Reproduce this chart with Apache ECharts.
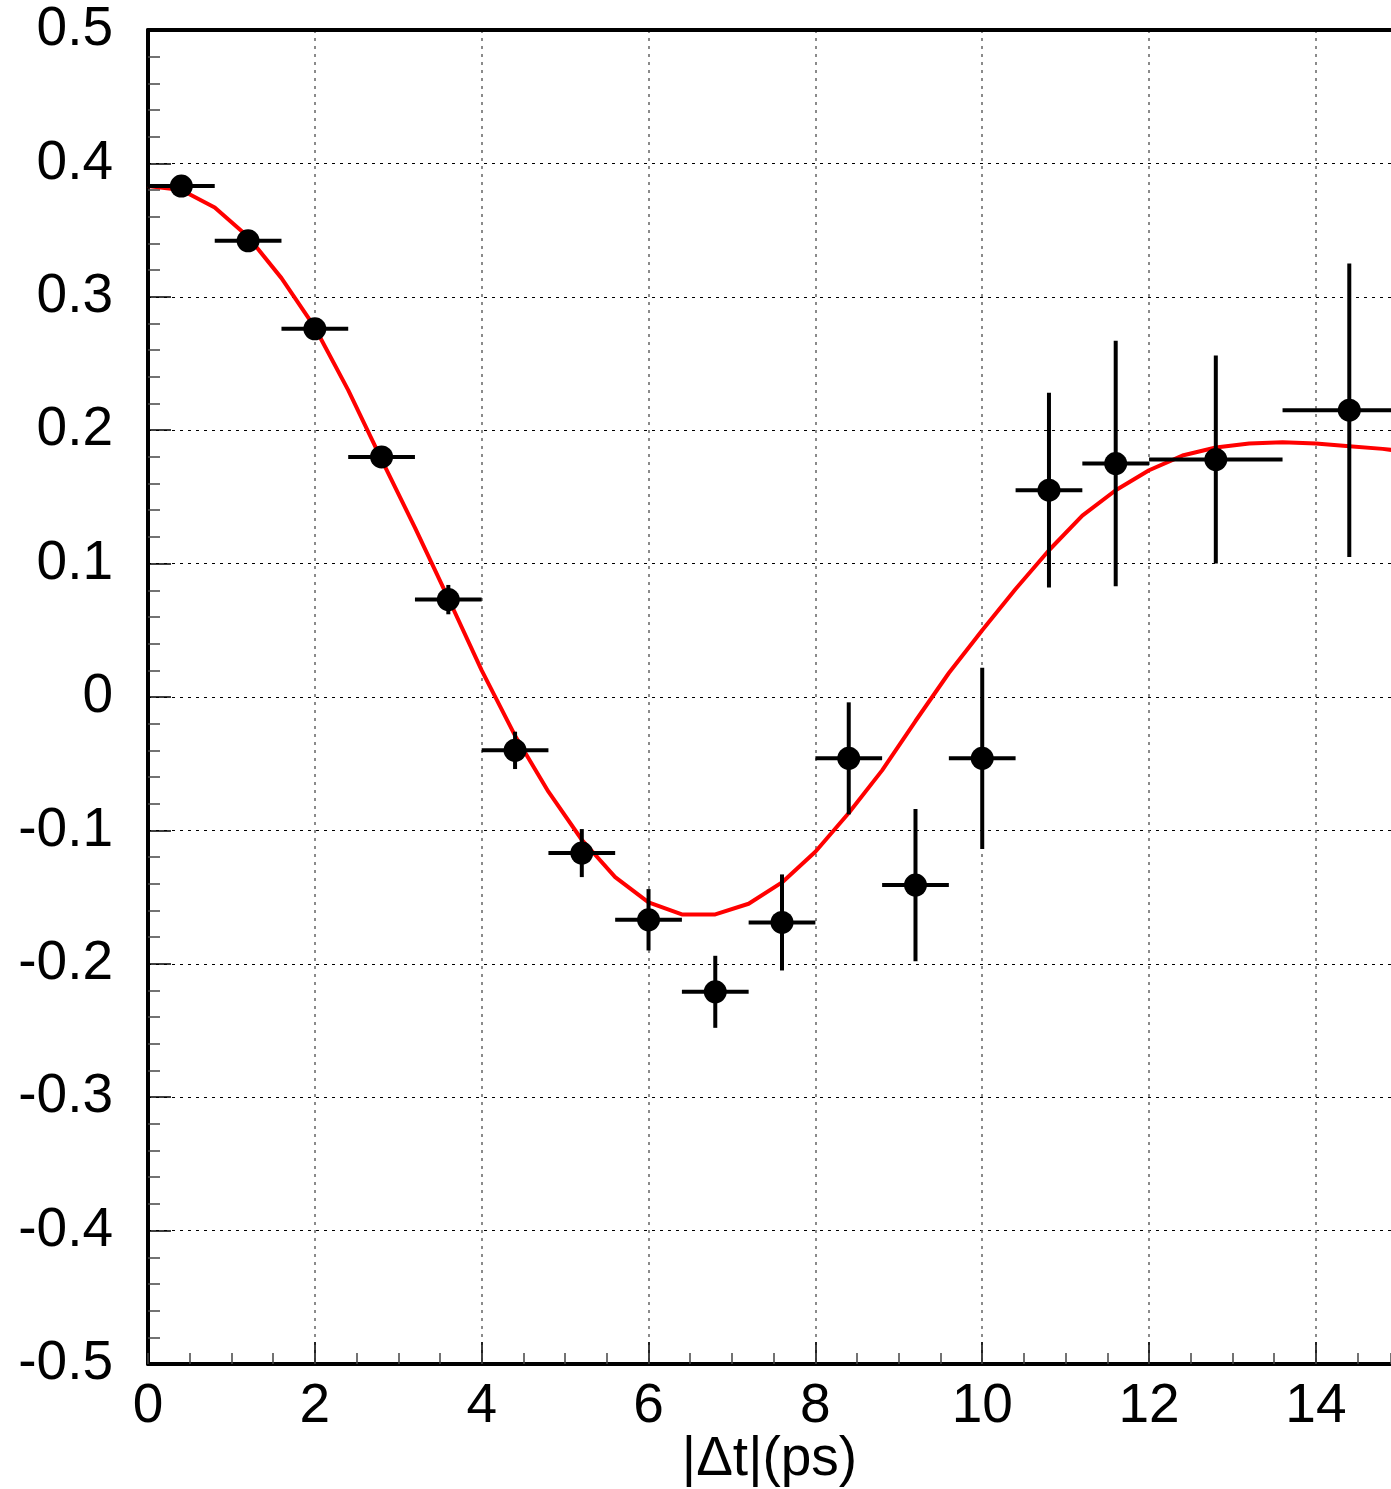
<!DOCTYPE html>
<html>
<head>
<meta charset="utf-8">
<title>|Δt| asymmetry</title>
<script src="https://cdn.jsdelivr.net/npm/echarts@6/dist/echarts.min.js"></script>
<style>
  html, body { margin: 0; padding: 0; background: #ffffff; overflow: hidden; }
  #chart { width: 1391px; height: 1489px; }
</style>
</head>
<body>
<div id="chart"></div>
<script>
// Measured asymmetry per |Δt| bin
const binCenters = [0.4, 1.2, 2.0, 2.8, 3.6, 4.4, 5.2, 6.0, 6.8, 7.6, 8.4, 9.2, 10.0, 10.8, 11.6, 12.8, 14.4];
const binHalfWidths = [0.4, 0.4, 0.4, 0.4, 0.4, 0.4, 0.4, 0.4, 0.4, 0.4, 0.4, 0.4, 0.4, 0.4, 0.4, 0.8, 0.8];
const asymmetry = [0.383, 0.342, 0.276, 0.180, 0.073, -0.040, -0.117, -0.167, -0.221, -0.169, -0.046, -0.141, -0.046, 0.155, 0.175, 0.178, 0.215];
const asymErrors = [0.005, 0.006, 0.007, 0.008, 0.011, 0.014, 0.018, 0.023, 0.027, 0.036, 0.042, 0.057, 0.068, 0.073, 0.092, 0.078, 0.110];

// Fit curve sampled every 0.4 ps
const fitT = [0, 0.4, 0.8, 1.2, 1.6, 2.0, 2.4, 2.8, 3.2, 3.6, 4.0, 4.4, 4.8, 5.2, 5.6, 6.0, 6.4, 6.8, 7.2, 7.6,
              8.0, 8.4, 8.8, 9.2, 9.6, 10.0, 10.4, 10.8, 11.2, 11.6, 12.0, 12.4, 12.8, 13.2, 13.6, 14.0, 14.4, 14.8, 15.2];
const fitA = [0.383, 0.380, 0.367, 0.345, 0.314, 0.277, 0.230, 0.178, 0.127, 0.074, 0.020, -0.029, -0.071, -0.107,
              -0.135, -0.154, -0.163, -0.163, -0.155, -0.139, -0.116, -0.087, -0.055, -0.018, 0.018, 0.050, 0.081,
              0.110, 0.136, 0.155, 0.170, 0.181, 0.187, 0.190, 0.191, 0.190, 0.188, 0.186, 0.183];

// Visible |Δt| window (the frame runs on past the right edge of the page)
const T_MIN = 0;
const T_MAX = 14.9;

const FONT = '"Liberation Sans", Arial, Helvetica, sans-serif';

const errorData = binCenters.map((t, i) => [
  t, asymmetry[i],
  t - binHalfWidths[i], t + binHalfWidths[i],
  asymmetry[i] - asymErrors[i], asymmetry[i] + asymErrors[i]
]);
const pointData = binCenters.map((t, i) => [t, asymmetry[i]]);
const fitData = fitT.map((t, i) => [t, fitA[i]]);

const chart = echarts.init(document.getElementById('chart'), null, { renderer: 'canvas' });

function renderErrorBars(params, api) {
  const x = api.value(0), y = api.value(1);
  const left = api.coord([api.value(2), y]);
  const right = api.coord([api.value(3), y]);
  const low = api.coord([x, api.value(4)]);
  const high = api.coord([x, api.value(5)]);
  const style = { stroke: '#000000', lineWidth: 4 };
  return {
    type: 'group',
    children: [
      { type: 'line', shape: { x1: left[0], y1: left[1], x2: right[0], y2: right[1] }, style },
      { type: 'line', shape: { x1: low[0], y1: low[1], x2: high[0], y2: high[1] }, style }
    ]
  };
}

const hidden = { show: false };

chart.setOption({
  animation: false,
  backgroundColor: '#ffffff',
  grid: { left: 148, top: 30, bottom: 125, right: 0, containLabel: false, outerBoundsMode: 'none' },
  xAxis: [
    {
      // main axis: labels, major ticks, grid lines
      type: 'value', position: 'bottom', min: T_MIN, max: T_MAX, interval: 2,
      name: '|Δt|(ps)', nameLocation: 'middle', nameGap: 68, nameMoveOverlap: false,
      nameTextStyle: { fontFamily: FONT, fontSize: 55, color: '#000000' },
      axisLine: { show: true, onZero: false, lineStyle: { color: '#000000', width: 4 } },
      axisTick: { show: true, inside: true, length: 22, lineStyle: { color: '#000000', width: 1.5 } },
      axisLabel: {
        fontFamily: FONT, fontSize: 55, color: '#000000', margin: 15, showMaxLabel: false,
        formatter: v => String(v)
      },
      splitLine: { show: true, showMaxLine: false, lineStyle: { color: '#666666', width: 1.5, type: [3, 5] } }
    },
    {
      // minor ticks every 0.5 ps
      type: 'value', position: 'bottom', min: T_MIN, max: T_MAX, interval: 0.5,
      axisLine: { show: false, onZero: false },
      axisTick: { show: true, inside: true, length: 11, lineStyle: { color: '#444444', width: 1.5 } },
      axisLabel: hidden, splitLine: hidden
    },
    {
      // upper frame edge
      type: 'value', position: 'top', min: T_MIN, max: T_MAX,
      axisLine: { show: true, onZero: false, lineStyle: { color: '#000000', width: 4 } },
      axisTick: hidden, axisLabel: hidden, splitLine: hidden
    }
  ],
  yAxis: {
    type: 'value', min: -0.5, max: 0.5, interval: 0.1,
    axisLine: { show: true, onZero: false, lineStyle: { color: '#000000', width: 4 } },
    axisTick: { show: true, inside: true, length: 23, lineStyle: { color: '#000000', width: 1.5 } },
    minorTick: { show: true, splitNumber: 5, length: 12, lineStyle: { color: '#444444', width: 1.5 } },
    axisLabel: {
      fontFamily: FONT, fontSize: 55, color: '#000000', margin: 35,
      formatter: v => (Math.abs(v) < 1e-9 ? '0' : String(+v.toFixed(1)))
    },
    splitLine: { show: true, lineStyle: { color: '#000000', width: 1, type: [3, 5] } }
  },
  series: [
    {
      type: 'line', data: fitData, xAxisIndex: 0, showSymbol: false, smooth: false, clip: true, z: 3,
      lineStyle: { color: '#ff0000', width: 4 }
    },
    {
      type: 'custom', data: errorData, xAxisIndex: 0, renderItem: renderErrorBars, clip: true, z: 4,
      encode: { x: [0, 2, 3], y: [1, 4, 5] }
    },
    {
      type: 'scatter', data: pointData, xAxisIndex: 0, symbol: 'circle', symbolSize: 23, z: 5,
      itemStyle: { color: '#000000', opacity: 1 }
    }
  ]
});
</script>
</body>
</html>
